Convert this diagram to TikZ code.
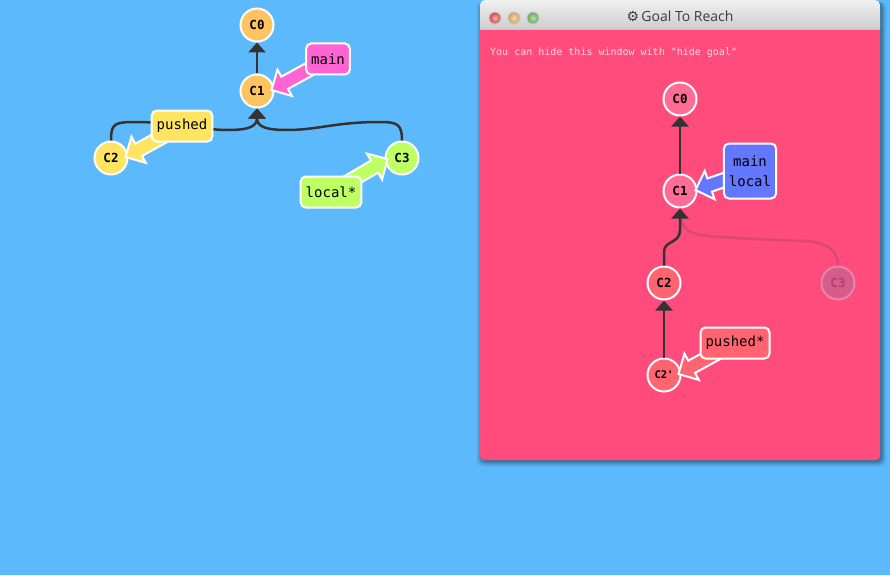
\documentclass[tikz,border=0pt]{standalone}
\usepackage{fontspec}
\setmainfont{Open Sans}
\setmonofont{DejaVu Sans Mono}
\newfontfamily\symfont{DejaVu Sans}
\usetikzlibrary{arrows.meta,calc}
\pgfdeclarelayer{arrowlayer}
\pgfdeclarelayer{front}
\pgfsetlayers{main,arrowlayer,front}

\definecolor{bgblue}{RGB}{92,186,252}
\definecolor{winpink}{RGB}{255,76,125}
\definecolor{tbtop}{RGB}{240,240,240}
\definecolor{tbbot}{RGB}{204,204,204}
\definecolor{edgegray}{RGB}{51,51,51}
\definecolor{corange}{RGB}{255,196,96}
\definecolor{cyellow}{RGB}{255,228,98}
\definecolor{cgreen}{RGB}{190,255,100}
\definecolor{bmagenta}{RGB}{255,100,210}
\definecolor{bblue}{RGB}{100,120,255}
\definecolor{gpink}{RGB}{255,108,150}
\definecolor{gsalmon}{RGB}{255,100,112}
\definecolor{gfadefill}{RGB}{214,92,140}
\definecolor{gfadeline}{RGB}{236,132,168}
\definecolor{gfadetext}{RGB}{176,64,108}
\definecolor{gfadeedge}{RGB}{218,72,118}
\definecolor{hinttext}{RGB}{255,214,226}
\definecolor{titletext}{RGB}{60,60,60}
\definecolor{lred}{RGB}{215,64,64}
\definecolor{lorange}{RGB}{212,158,84}
\definecolor{lgreen}{RGB}{92,170,80}

\newcommand\fatarrow[3]{%
  \coordinate (fa-h) at ($(#2)!15pt!(#1)$);
  \fill[#3, draw=white, line width=2pt, line join=miter]
    (#2) -- ($(fa-h)!15pt!90:(#2)$) -- ($(fa-h)!7pt!90:(#2)$)
    -- ($(#1)!7pt!90:(#2)$) -- ($(#1)!7pt!-90:(#2)$)
    -- ($(fa-h)!7pt!-90:(#2)$) -- ($(fa-h)!15pt!-90:(#2)$) -- cycle;
}

\tikzset{
  commit/.style={circle, draw=white, line width=2pt, minimum size=33pt, inner sep=0pt,
    text=black, font=\ttfamily\bfseries\fontsize{12.5}{13}\selectfont},
  branch/.style={draw=white, line width=2pt, rounded corners=5pt, minimum height=31pt,
    inner xsep=5pt, inner ysep=4pt, align=center, text=black,
    font=\ttfamily\fontsize{14}{20}\selectfont},
  edge/.style={draw=edgegray, line width=2.5pt, -{Triangle[width=17pt,length=10pt]}},
  light/.style={circle, minimum size=12pt, inner sep=0pt, draw=black!22, line width=1pt},
}

\begin{document}
\begin{tikzpicture}[x=1pt, y=-1pt]
\useasboundingbox (0,0) rectangle (890,575);
\fill[bgblue] (0,0) rectangle (890,575);

% window shadow
\foreach \i/\o in {1/0.12,2/0.10,3/0.08,4/0.06,5/0.04,6/0.03}
  \fill[black, opacity=\o, rounded corners=6pt] (482-\i, 2) rectangle (881+\i, 461+\i);

% window title bar
\shade[top color=tbtop, bottom color=tbbot]
  (480,30) -- (480,5) arc[start angle=180, end angle=270, radius=5]
  -- (875,0) arc[start angle=270, end angle=360, radius=5] -- (880,30) -- cycle;
% window body
\fill[winpink] (480,30) -- (880,30) -- (880,456) arc[start angle=0, end angle=90, radius=4]
  -- (484,460) arc[start angle=90, end angle=180, radius=4] -- cycle;

\node[light, inner color=lred!40!white, outer color=lred] (lr) at (495,18) {};
\node[light, inner color=lorange!40!white, outer color=lorange] (lo) at (514,18) {};
\node[light, inner color=lgreen!40!white, outer color=lgreen] (lg) at (533,18) {};
\node[text=titletext, font=\fontsize{14}{16}\selectfont, inner sep=0pt] (title) at (680,16)
  {{\symfont\fontsize{14}{14}\selectfont ⚙}\,Goal To Reach};
\node[anchor=base west, inner sep=0pt, text=hinttext, font=\ttfamily\fontsize{10}{12}\selectfont]
  (hint) at (490,55.5) {You can hide this window with "hide goal"};

% ---- left graph ----
\node[commit, fill=corange] (c0) at (257,25) {C0};
\node[commit, fill=corange] (c1) at (257,91) {C1};
\node[commit, fill=cyellow] (c2) at (111,158) {C2};
\node[commit, fill=cgreen]  (c3) at (402,158) {C3};

\draw[edge] (c1) -- (c0);
\draw[edge] (c2.north) .. controls (111,124) and (114,122) .. (135,122)
  .. controls (175,122) and (200,130) .. (228,130)
  .. controls (250,130) and (257,126) .. (c1.south);
\draw[edge] (c3.north) .. controls (402,124) and (397,122) .. (380,122)
  .. controls (335,122) and (318,130) .. (287,130)
  .. controls (264,130) and (257,126) .. (c1.south);

% ---- goal graph ----
\node[commit, fill=gpink] (g0) at (680,99) {C0};
\node[commit, fill=gpink] (g1) at (680,191) {C1};
\node[commit, fill=gsalmon] (g2) at (664,283) {C2};
\node[commit, fill=gfadefill, draw=gfadeline, text=gfadetext] (g3) at (838,283) {C3};
\node[commit, fill=gsalmon, font=\ttfamily\bfseries\fontsize{10.5}{11}\selectfont] (g2p) at (664,375) {C2'};

\draw[draw=gfadeedge, line width=2.5pt] (g3.north) .. controls (838,252) and (830,243) .. (805,241)
  .. controls (760,239) and (720,238) .. (700,235)
  .. controls (685,232) and (680,225) .. (g1.south);
\draw[edge] (g1) -- (g0);
\draw[edge] (g2.north) -- (664,252) .. controls (664,240) and (680,244) .. (680,230) -- (g1.south);
\draw[edge] (g2p) -- (g2);

% ---- branch labels ----
\begin{pgfonlayer}{front}
\node[branch, fill=bmagenta] (bmain) at (328,59) {main};
\node[branch, fill=cyellow] (bpushed) at (182,126) {pushed};
\node[branch, fill=cgreen] (blocal) at (331,192) {local*};
\node[branch, fill=bblue, minimum height=55pt] (bgoal) at (750,171) {main\\local};
\node[branch, fill=gsalmon] (bgpushed) at (735,343) {pushed*};
\end{pgfonlayer}

\coordinate (t1) at ([xshift=-3pt,yshift=1pt]c1.east);
\coordinate (t2) at ([xshift=-3pt,yshift=1pt]c2.east);
\coordinate (t3) at ([xshift=3pt,yshift=-1pt]c3.west);
\coordinate (t4) at ([xshift=-2pt,yshift=1pt]g1.east);
\coordinate (t5) at ([xshift=-3pt,yshift=1pt]g2p.east);

\begin{pgfonlayer}{arrowlayer}
\fatarrow{bmain}{t1}{bmagenta}
\fatarrow{bpushed}{t2}{cyellow}
\fatarrow{blocal}{t3}{cgreen}
\fatarrow{bgoal}{t4}{bblue}
\fatarrow{bgpushed}{t5}{gsalmon}
\end{pgfonlayer}
\end{tikzpicture}
\end{document}
